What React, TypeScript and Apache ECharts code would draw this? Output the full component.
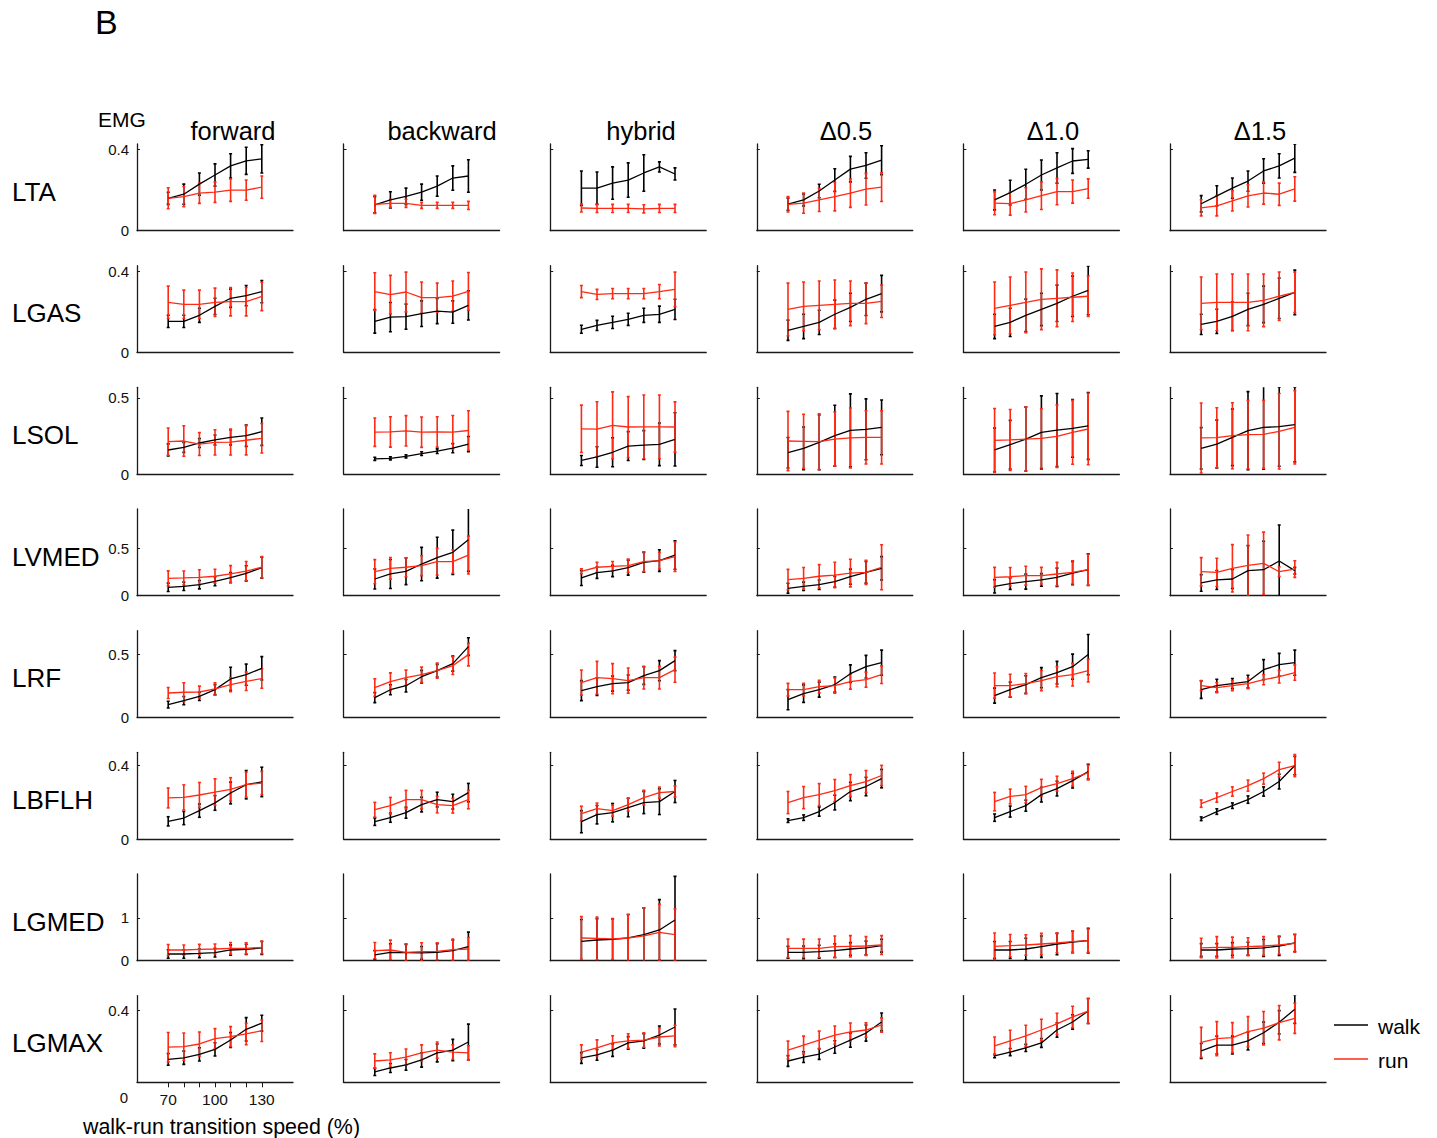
import React, { useEffect, useRef } from 'react';
import * as echarts from 'echarts';

const SPEEDS = [70, 80, 90, 100, 110, 120, 130];
const X_TICK_LABELS = [70, 100, 130];
const CONDITIONS = ['forward', 'backward', 'hybrid', 'Δ0.5', 'Δ1.0', 'Δ1.5'];
const MUSCLES = ['LTA', 'LGAS', 'LSOL', 'LVMED', 'LRF', 'LBFLH', 'LGMED', 'LGMAX'];
const Y_MAX = [0.428, 0.428, 0.57, 0.915, 0.691, 0.471, 2.03, 0.484];
const Y_TICKS = [[0, 0.4], [0, 0.4], [0, 0.5], [0, 0.5], [0, 0.5], [0, 0.4], [0, 1], [0, 0.4]];

// each array: 6 conditions (forward, backward, hybrid, Δ0.5, Δ1.0, Δ1.5) x 7 speeds
const LTA_WALK = [
  [0.16, 0.18, 0.23, 0.275, 0.32, 0.345, 0.355],
  [0.128, 0.152, 0.17, 0.19, 0.22, 0.26, 0.27],
  [0.21, 0.21, 0.235, 0.25, 0.285, 0.315, 0.28],
  [0.131, 0.152, 0.196, 0.25, 0.304, 0.322, 0.348],
  [0.152, 0.188, 0.229, 0.275, 0.31, 0.344, 0.352],
  [0.133, 0.172, 0.21, 0.245, 0.295, 0.32, 0.358],
];
const LTA_WALK_SD = [
  [0.03, 0.05, 0.055, 0.055, 0.06, 0.067, 0.07],
  [0.04, 0.04, 0.04, 0.04, 0.05, 0.06, 0.08],
  [0.085, 0.08, 0.08, 0.085, 0.09, 0.025, 0.03],
  [0.03, 0.03, 0.033, 0.056, 0.063, 0.063, 0.071],
  [0.049, 0.061, 0.074, 0.074, 0.075, 0.061, 0.043],
  [0.04, 0.05, 0.05, 0.05, 0.06, 0.06, 0.07],
];
const LTA_RUN = [
  [0.16, 0.168, 0.185, 0.19, 0.2, 0.2, 0.215],
  [0.13, 0.135, 0.135, 0.125, 0.125, 0.125, 0.125],
  [0.112, 0.11, 0.11, 0.11, 0.108, 0.11, 0.11],
  [0.13, 0.136, 0.152, 0.168, 0.185, 0.205, 0.215],
  [0.136, 0.134, 0.152, 0.173, 0.193, 0.193, 0.208],
  [0.113, 0.123, 0.147, 0.172, 0.186, 0.18, 0.206],
];
const LTA_RUN_SD = [
  [0.052, 0.05, 0.05, 0.05, 0.055, 0.05, 0.055],
  [0.045, 0.02, 0.02, 0.015, 0.015, 0.015, 0.02],
  [0.02, 0.02, 0.02, 0.02, 0.02, 0.02, 0.02],
  [0.038, 0.05, 0.057, 0.07, 0.07, 0.078, 0.071],
  [0.057, 0.057, 0.06, 0.068, 0.065, 0.057, 0.048],
  [0.04, 0.05, 0.05, 0.055, 0.055, 0.055, 0.06],
];

const LGAS_WALK = [
  [0.153, 0.153, 0.183, 0.227, 0.267, 0.28, 0.3],
  [0.153, 0.174, 0.176, 0.191, 0.204, 0.199, 0.232],
  [0.114, 0.133, 0.148, 0.163, 0.183, 0.188, 0.212],
  [0.109, 0.128, 0.148, 0.188, 0.222, 0.262, 0.29],
  [0.128, 0.148, 0.183, 0.212, 0.242, 0.277, 0.306],
  [0.138, 0.153, 0.178, 0.212, 0.237, 0.267, 0.296],
];
const LGAS_WALK_SD = [
  [0.03, 0.03, 0.035, 0.04, 0.045, 0.05, 0.055],
  [0.058, 0.072, 0.062, 0.063, 0.062, 0.055, 0.072],
  [0.02, 0.025, 0.03, 0.03, 0.035, 0.04, 0.05],
  [0.05, 0.06, 0.06, 0.07, 0.07, 0.08, 0.09],
  [0.06, 0.07, 0.08, 0.08, 0.09, 0.1, 0.12],
  [0.05, 0.06, 0.07, 0.08, 0.09, 0.1, 0.11],
];
const LGAS_RUN = [
  [0.247, 0.237, 0.237, 0.247, 0.25, 0.25, 0.276],
  [0.3, 0.285, 0.298, 0.27, 0.27, 0.278, 0.301],
  [0.3, 0.286, 0.29, 0.29, 0.29, 0.3, 0.311],
  [0.212, 0.227, 0.232, 0.237, 0.242, 0.242, 0.252],
  [0.217, 0.232, 0.247, 0.262, 0.267, 0.272, 0.277],
  [0.242, 0.247, 0.247, 0.247, 0.257, 0.277, 0.296],
];
const LGAS_RUN_SD = [
  [0.08, 0.07, 0.07, 0.07, 0.07, 0.07, 0.07],
  [0.093, 0.095, 0.098, 0.077, 0.072, 0.074, 0.093],
  [0.03, 0.025, 0.025, 0.025, 0.025, 0.035, 0.085],
  [0.13, 0.12, 0.12, 0.12, 0.11, 0.1, 0.08],
  [0.13, 0.14, 0.15, 0.15, 0.14, 0.12, 0.1],
  [0.13, 0.14, 0.14, 0.14, 0.13, 0.12, 0.1],
];

const LSOL_WALK = [
  [0.158, 0.175, 0.204, 0.224, 0.241, 0.252, 0.278],
  [0.1, 0.103, 0.116, 0.134, 0.15, 0.17, 0.197],
  [0.089, 0.112, 0.143, 0.184, 0.19, 0.195, 0.228],
  [0.14, 0.169, 0.208, 0.252, 0.287, 0.294, 0.307],
  [0.158, 0.193, 0.23, 0.274, 0.289, 0.3, 0.316],
  [0.169, 0.197, 0.241, 0.285, 0.307, 0.311, 0.325],
];
const LSOL_WALK_SD = [
  [0.04, 0.033, 0.03, 0.033, 0.05, 0.07, 0.09],
  [0.01, 0.01, 0.01, 0.012, 0.015, 0.03, 0.05],
  [0.033, 0.067, 0.095, 0.095, 0.095, 0.14, 0.175],
  [0.1, 0.14, 0.18, 0.2, 0.24, 0.2, 0.18],
  [0.145, 0.16, 0.21, 0.24, 0.24, 0.19, 0.22],
  [0.136, 0.157, 0.186, 0.257, 0.276, 0.26, 0.245],
];
const LSOL_RUN = [
  [0.213, 0.217, 0.197, 0.208, 0.21, 0.222, 0.235],
  [0.275, 0.277, 0.284, 0.275, 0.277, 0.275, 0.286],
  [0.297, 0.295, 0.32, 0.309, 0.31, 0.31, 0.309],
  [0.217, 0.215, 0.213, 0.23, 0.237, 0.241, 0.241],
  [0.221, 0.224, 0.23, 0.235, 0.248, 0.274, 0.296],
  [0.237, 0.239, 0.252, 0.259, 0.261, 0.281, 0.307],
];
const LSOL_RUN_SD = [
  [0.09, 0.1, 0.075, 0.083, 0.085, 0.096, 0.097],
  [0.093, 0.1, 0.1, 0.1, 0.1, 0.11, 0.13],
  [0.156, 0.18, 0.22, 0.2, 0.21, 0.21, 0.165],
  [0.195, 0.178, 0.183, 0.178, 0.197, 0.175, 0.175],
  [0.21, 0.2, 0.21, 0.195, 0.205, 0.21, 0.235],
  [0.23, 0.197, 0.217, 0.224, 0.224, 0.248, 0.241],
];

const LVMED_WALK = [
  [0.088, 0.099, 0.116, 0.152, 0.19, 0.236, 0.295],
  [0.176, 0.229, 0.257, 0.334, 0.401, 0.458, 0.591],
  [0.187, 0.243, 0.261, 0.296, 0.352, 0.37, 0.429],
  [0.078, 0.099, 0.116, 0.148, 0.2, 0.246, 0.289],
  [0.099, 0.127, 0.148, 0.166, 0.194, 0.239, 0.274],
  [0.134, 0.166, 0.176, 0.264, 0.274, 0.366, 0.264],
];
const LVMED_WALK_SD = [
  [0.044, 0.044, 0.044, 0.047, 0.053, 0.08, 0.11],
  [0.105, 0.153, 0.14, 0.176, 0.216, 0.234, 0.334],
  [0.079, 0.06, 0.06, 0.079, 0.105, 0.114, 0.15],
  [0.053, 0.044, 0.05, 0.056, 0.08, 0.114, 0.123],
  [0.07, 0.06, 0.079, 0.067, 0.097, 0.123, 0.167],
  [0.088, 0.1, 0.1, 0.264, 0.3, 0.38, 0.035],
];
const LVMED_RUN = [
  [0.183, 0.187, 0.194, 0.205, 0.229, 0.26, 0.3],
  [0.253, 0.289, 0.3, 0.317, 0.359, 0.359, 0.429],
  [0.257, 0.3, 0.31, 0.317, 0.359, 0.37, 0.412],
  [0.169, 0.183, 0.205, 0.218, 0.239, 0.246, 0.3],
  [0.194, 0.2, 0.211, 0.211, 0.229, 0.246, 0.274],
  [0.253, 0.246, 0.289, 0.32, 0.341, 0.253, 0.281],
];
const LVMED_RUN_SD = [
  [0.079, 0.074, 0.079, 0.074, 0.088, 0.1, 0.114],
  [0.127, 0.114, 0.1, 0.105, 0.14, 0.123, 0.2],
  [0.026, 0.053, 0.05, 0.07, 0.105, 0.088, 0.155],
  [0.109, 0.114, 0.123, 0.135, 0.146, 0.128, 0.237],
  [0.105, 0.097, 0.1, 0.088, 0.123, 0.123, 0.163],
  [0.149, 0.149, 0.25, 0.32, 0.33, 0.05, 0.088],
];

const LRF_WALK = [
  [0.101, 0.133, 0.167, 0.221, 0.306, 0.34, 0.391],
  [0.157, 0.22, 0.252, 0.324, 0.372, 0.428, 0.564],
  [0.213, 0.245, 0.269, 0.277, 0.333, 0.372, 0.452],
  [0.141, 0.189, 0.221, 0.261, 0.348, 0.404, 0.436],
  [0.173, 0.221, 0.261, 0.316, 0.356, 0.404, 0.5],
  [0.221, 0.253, 0.269, 0.285, 0.38, 0.42, 0.436],
];
const LRF_WALK_SD = [
  [0.027, 0.033, 0.033, 0.04, 0.093, 0.084, 0.093],
  [0.04, 0.04, 0.05, 0.05, 0.05, 0.06, 0.07],
  [0.08, 0.07, 0.06, 0.06, 0.07, 0.08, 0.08],
  [0.08, 0.07, 0.06, 0.06, 0.07, 0.09, 0.1],
  [0.06, 0.06, 0.07, 0.08, 0.09, 0.1, 0.16],
  [0.07, 0.05, 0.04, 0.05, 0.08, 0.09, 0.1],
];
const LRF_RUN = [
  [0.194, 0.2, 0.202, 0.226, 0.261, 0.287, 0.309],
  [0.237, 0.284, 0.316, 0.34, 0.372, 0.412, 0.5],
  [0.277, 0.316, 0.308, 0.293, 0.316, 0.316, 0.38],
  [0.221, 0.221, 0.245, 0.253, 0.285, 0.3, 0.34],
  [0.253, 0.253, 0.269, 0.293, 0.324, 0.34, 0.372],
  [0.253, 0.237, 0.253, 0.269, 0.3, 0.324, 0.356],
];
const LRF_RUN_SD = [
  [0.044, 0.076, 0.047, 0.05, 0.056, 0.073, 0.077],
  [0.07, 0.07, 0.06, 0.06, 0.06, 0.07, 0.09],
  [0.1, 0.13, 0.12, 0.1, 0.09, 0.09, 0.1],
  [0.05, 0.05, 0.05, 0.06, 0.06, 0.06, 0.07],
  [0.1, 0.09, 0.08, 0.08, 0.08, 0.09, 0.09],
  [0.04, 0.04, 0.04, 0.04, 0.04, 0.05, 0.06],
];

const LBFLH_WALK = [
  [0.096, 0.114, 0.154, 0.196, 0.25, 0.295, 0.31],
  [0.094, 0.116, 0.143, 0.187, 0.214, 0.203, 0.252],
  [0.094, 0.132, 0.143, 0.171, 0.198, 0.203, 0.258],
  [0.1, 0.116, 0.149, 0.198, 0.258, 0.285, 0.328],
  [0.116, 0.149, 0.181, 0.241, 0.274, 0.317, 0.366],
  [0.11, 0.149, 0.181, 0.214, 0.258, 0.312, 0.399],
];
const LBFLH_WALK_SD = [
  [0.025, 0.036, 0.036, 0.04, 0.059, 0.077, 0.08],
  [0.02, 0.025, 0.03, 0.04, 0.04, 0.04, 0.05],
  [0.06, 0.05, 0.05, 0.05, 0.06, 0.07, 0.06],
  [0.01, 0.015, 0.025, 0.04, 0.05, 0.05, 0.05],
  [0.02, 0.03, 0.03, 0.04, 0.04, 0.04, 0.04],
  [0.01, 0.015, 0.015, 0.02, 0.025, 0.04, 0.05],
];
const LBFLH_RUN = [
  [0.223, 0.226, 0.239, 0.255, 0.27, 0.295, 0.304],
  [0.159, 0.181, 0.214, 0.214, 0.187, 0.181, 0.214],
  [0.138, 0.165, 0.154, 0.187, 0.225, 0.252, 0.258],
  [0.198, 0.225, 0.241, 0.263, 0.29, 0.312, 0.345],
  [0.203, 0.231, 0.241, 0.279, 0.301, 0.328, 0.361],
  [0.192, 0.225, 0.258, 0.29, 0.328, 0.377, 0.399],
];
const LBFLH_RUN_SD = [
  [0.054, 0.068, 0.068, 0.072, 0.063, 0.068, 0.063],
  [0.04, 0.045, 0.05, 0.05, 0.045, 0.04, 0.05],
  [0.04, 0.03, 0.03, 0.035, 0.04, 0.03, 0.03],
  [0.06, 0.06, 0.06, 0.06, 0.06, 0.06, 0.055],
  [0.05, 0.04, 0.045, 0.045, 0.04, 0.04, 0.04],
  [0.02, 0.025, 0.025, 0.03, 0.03, 0.04, 0.06],
];

const LGMED_WALK = [
  [0.156, 0.156, 0.17, 0.187, 0.25, 0.265, 0.297],
  [0.134, 0.195, 0.187, 0.18, 0.195, 0.234, 0.328],
  [0.452, 0.484, 0.5, 0.531, 0.609, 0.718, 0.953],
  [0.195, 0.195, 0.21, 0.234, 0.273, 0.297, 0.351],
  [0.25, 0.25, 0.273, 0.328, 0.39, 0.437, 0.468],
  [0.25, 0.25, 0.273, 0.28, 0.297, 0.343, 0.414],
];
const LGMED_WALK_SD = [
  [0.1, 0.1, 0.1, 0.1, 0.12, 0.12, 0.15],
  [0.1, 0.2, 0.195, 0.15, 0.2, 0.25, 0.34],
  [0.51, 0.5, 0.48, 0.55, 0.62, 0.71, 1.02],
  [0.14, 0.15, 0.15, 0.16, 0.15, 0.16, 0.15],
  [0.2, 0.2, 0.25, 0.25, 0.25, 0.25, 0.29],
  [0.15, 0.15, 0.15, 0.15, 0.2, 0.22, 0.2],
];
const LGMED_RUN = [
  [0.25, 0.25, 0.265, 0.273, 0.289, 0.289, 0.312],
  [0.234, 0.25, 0.195, 0.21, 0.218, 0.257, 0.273],
  [0.531, 0.523, 0.508, 0.531, 0.578, 0.664, 0.609],
  [0.289, 0.289, 0.289, 0.328, 0.336, 0.343, 0.367],
  [0.336, 0.351, 0.367, 0.39, 0.414, 0.445, 0.468],
  [0.297, 0.312, 0.312, 0.328, 0.343, 0.367, 0.406],
];
const LGMED_RUN_SD = [
  [0.129, 0.117, 0.117, 0.117, 0.137, 0.129, 0.148],
  [0.19, 0.23, 0.2, 0.21, 0.2, 0.25, 0.27],
  [0.5, 0.5, 0.48, 0.55, 0.66, 0.66, 0.6],
  [0.215, 0.215, 0.215, 0.25, 0.25, 0.22, 0.22],
  [0.31, 0.26, 0.24, 0.25, 0.23, 0.25, 0.27],
  [0.226, 0.25, 0.24, 0.21, 0.22, 0.21, 0.21],
];

const LGMAX_WALK = [
  [0.128, 0.137, 0.156, 0.184, 0.236, 0.296, 0.33],
  [0.058, 0.08, 0.097, 0.125, 0.164, 0.18, 0.225],
  [0.136, 0.153, 0.18, 0.22, 0.231, 0.264, 0.309],
  [0.119, 0.141, 0.158, 0.197, 0.236, 0.275, 0.337],
  [0.147, 0.169, 0.192, 0.22, 0.292, 0.337, 0.398],
  [0.175, 0.208, 0.208, 0.231, 0.277, 0.335, 0.408],
];
const LGMAX_WALK_SD = [
  [0.033, 0.037, 0.037, 0.037, 0.042, 0.065, 0.044],
  [0.02, 0.025, 0.03, 0.04, 0.05, 0.06, 0.1],
  [0.03, 0.03, 0.035, 0.035, 0.04, 0.05, 0.1],
  [0.03, 0.03, 0.03, 0.035, 0.04, 0.045, 0.05],
  [0.01, 0.02, 0.02, 0.025, 0.04, 0.04, 0.07],
  [0.042, 0.05, 0.05, 0.05, 0.06, 0.065, 0.079],
];
const LGMAX_RUN = [
  [0.196, 0.199, 0.214, 0.244, 0.255, 0.27, 0.288],
  [0.119, 0.125, 0.141, 0.164, 0.18, 0.169, 0.164],
  [0.169, 0.192, 0.22, 0.231, 0.236, 0.253, 0.259],
  [0.18, 0.208, 0.236, 0.264, 0.281, 0.292, 0.32],
  [0.203, 0.231, 0.259, 0.292, 0.326, 0.365, 0.398],
  [0.223, 0.244, 0.249, 0.283, 0.302, 0.333, 0.357],
];
const LGMAX_RUN_SD = [
  [0.082, 0.076, 0.067, 0.056, 0.056, 0.06, 0.06],
  [0.04, 0.04, 0.045, 0.045, 0.045, 0.04, 0.04],
  [0.04, 0.045, 0.04, 0.04, 0.04, 0.05, 0.06],
  [0.05, 0.05, 0.05, 0.05, 0.05, 0.04, 0.04],
  [0.05, 0.06, 0.06, 0.06, 0.06, 0.06, 0.07],
  [0.084, 0.095, 0.084, 0.084, 0.093, 0.096, 0.084],
];

const WALK = [LTA_WALK, LGAS_WALK, LSOL_WALK, LVMED_WALK, LRF_WALK, LBFLH_WALK, LGMED_WALK, LGMAX_WALK];
const WALK_SD = [LTA_WALK_SD, LGAS_WALK_SD, LSOL_WALK_SD, LVMED_WALK_SD, LRF_WALK_SD, LBFLH_WALK_SD, LGMED_WALK_SD, LGMAX_WALK_SD];
const RUN = [LTA_RUN, LGAS_RUN, LSOL_RUN, LVMED_RUN, LRF_RUN, LBFLH_RUN, LGMED_RUN, LGMAX_RUN];
const RUN_SD = [LTA_RUN_SD, LGAS_RUN_SD, LSOL_RUN_SD, LVMED_RUN_SD, LRF_RUN_SD, LBFLH_RUN_SD, LGMED_RUN_SD, LGMAX_RUN_SD];

const FONT = '"Liberation Sans", Arial, Helvetica, sans-serif';
const WALK_COLOR = '#000000';
const RUN_COLOR = '#ff2a14';
const AXIS_COLOR = '#1a1a1a';

const LEFT0 = 137;
const COL_STEP = 206.6;
const PANEL_W = 156;
const BOTTOM0 = 230.7;
const ROW_STEP = 121.66;
const PANEL_H = 86.7;
const TITLE_CENTERS = [233, 442, 641, 846, 1053, 1260];

function errorBarSeries(idx: number, means: number[], sds: number[], color: string) {
  return {
    type: 'custom',
    xAxisIndex: idx,
    yAxisIndex: idx,
    clip: true,
    silent: true,
    data: SPEEDS.map((s, i) => [s, means[i], sds[i]]),
    encode: { x: 0, y: 1 },
    renderItem: (params: any, api: any) => {
      const x = api.value(0);
      const m = api.value(1);
      const e = api.value(2);
      const lo = api.coord([x, m - e]);
      const hi = api.coord([x, m + e]);
      const style = { stroke: color, lineWidth: 1.6 };
      return {
        type: 'group',
        children: [
          { type: 'line', shape: { x1: lo[0], y1: lo[1], x2: hi[0], y2: hi[1] }, style },
          { type: 'line', shape: { x1: lo[0] - 1.5, y1: lo[1], x2: lo[0] + 1.5, y2: lo[1] }, style },
          { type: 'line', shape: { x1: hi[0] - 1.5, y1: hi[1], x2: hi[0] + 1.5, y2: hi[1] }, style },
        ],
      };
    },
  };
}

function lineSeries(idx: number, name: string, means: number[], color: string) {
  return {
    type: 'line',
    name,
    xAxisIndex: idx,
    yAxisIndex: idx,
    data: SPEEDS.map((s, i) => [s, means[i]]),
    showSymbol: false,
    symbol: 'none',
    silent: true,
    clip: true,
    lineStyle: { color, width: 1.3 },
    itemStyle: { color },
  };
}

function buildOption() {
  const grid: any[] = [];
  const xAxis: any[] = [];
  const yAxis: any[] = [];
  const series: any[] = [];
  const graphic: any[] = [];

  MUSCLES.forEach((muscle, r) => {
    const bottom = BOTTOM0 + r * ROW_STEP;
    const top = bottom - PANEL_H;
    CONDITIONS.forEach((cond, c) => {
      const idx = r * CONDITIONS.length + c;
      const left = LEFT0 + c * COL_STEP;
      grid.push({ left, top, width: PANEL_W, height: PANEL_H, containLabel: false });
      const xLabeled = r === MUSCLES.length - 1 && c === 0;
      xAxis.push({
        type: 'value',
        gridIndex: idx,
        min: 50,
        max: 150,
        axisLine: { show: true, onZero: false, lineStyle: { color: AXIS_COLOR, width: 1.3 } },
        axisTick: xLabeled
          ? { show: true, inside: false, length: 5, customValues: SPEEDS, lineStyle: { color: AXIS_COLOR, width: 1 } }
          : { show: false },
        axisLabel: xLabeled
          ? { show: true, customValues: X_TICK_LABELS, fontSize: 15.5, color: '#111', fontFamily: FONT, margin: 9 }
          : { show: false },
        splitLine: { show: false },
      });
      const ticks = Y_TICKS[r];
      const labelVals = r === MUSCLES.length - 1 ? ticks.filter((v) => v !== 0) : ticks;
      yAxis.push({
        type: 'value',
        gridIndex: idx,
        min: 0,
        max: Y_MAX[r],
        axisLine: { show: true, onZero: false, lineStyle: { color: AXIS_COLOR, width: 1.3 } },
        axisTick: { show: true, inside: true, length: 3, customValues: ticks.filter((v) => v !== 0), lineStyle: { color: AXIS_COLOR, width: 1 } },
        axisLabel: c === 0
          ? { show: true, customValues: labelVals, fontSize: 15, color: '#111', fontFamily: FONT, margin: 8 }
          : { show: false },
        splitLine: { show: false },
      });
      series.push(errorBarSeries(idx, WALK[r][c], WALK_SD[r][c], WALK_COLOR));
      series.push(lineSeries(idx, 'walk', WALK[r][c], WALK_COLOR));
      series.push(errorBarSeries(idx, RUN[r][c], RUN_SD[r][c], RUN_COLOR));
      series.push(lineSeries(idx, 'run', RUN[r][c], RUN_COLOR));
    });
    graphic.push({
      type: 'text',
      x: 12,
      y: bottom - 39,
      style: { text: muscle, fontSize: 26, fontFamily: FONT, fill: '#000', align: 'left', verticalAlign: 'middle' },
    });
  });

  CONDITIONS.forEach((cond, c) => {
    graphic.push({
      type: 'text',
      x: TITLE_CENTERS[c],
      y: 131,
      style: { text: cond, fontSize: 25.5, fontFamily: FONT, fill: '#000', align: 'center', verticalAlign: 'middle' },
    });
  });

  graphic.push(
    { type: 'text', x: 95, y: 22, style: { text: 'B', fontSize: 34, fontFamily: FONT, fill: '#000', align: 'left', verticalAlign: 'middle' } },
    { type: 'text', x: 98, y: 119, style: { text: 'EMG', fontSize: 21, fontFamily: FONT, fill: '#000', align: 'left', verticalAlign: 'middle' } },
    { type: 'text', x: 124, y: 1097, style: { text: '0', fontSize: 15, fontFamily: FONT, fill: '#111', align: 'center', verticalAlign: 'middle' } },
    { type: 'text', x: 83, y: 1127, style: { text: 'walk-run transition speed (%)', fontSize: 21.4, fontFamily: FONT, fill: '#000', align: 'left', verticalAlign: 'middle' } },
    { type: 'line', shape: { x1: 1334, y1: 1025, x2: 1368, y2: 1025 }, style: { stroke: WALK_COLOR, lineWidth: 1.3 } },
    { type: 'line', shape: { x1: 1334, y1: 1059, x2: 1368, y2: 1059 }, style: { stroke: RUN_COLOR, lineWidth: 1.3 } },
    { type: 'text', x: 1378, y: 1026, style: { text: 'walk', fontSize: 21, fontFamily: FONT, fill: '#000', align: 'left', verticalAlign: 'middle' } },
    { type: 'text', x: 1378, y: 1060, style: { text: 'run', fontSize: 21, fontFamily: FONT, fill: '#000', align: 'left', verticalAlign: 'middle' } },
  );

  return {
    animation: false,
    backgroundColor: '#ffffff',
    textStyle: { fontFamily: FONT },
    grid,
    xAxis,
    yAxis,
    series,
    graphic,
  };
}

export default function App() {
  const ref = useRef<HTMLDivElement>(null);
  useEffect(() => {
    document.body.style.margin = '0';
    if (!ref.current) return;
    const chart = echarts.init(ref.current, null, { renderer: 'svg' });
    chart.setOption(buildOption() as any);
    return () => chart.dispose();
  }, []);
  return <div ref={ref} style={{ width: 1437, height: 1138 }} />;
}
